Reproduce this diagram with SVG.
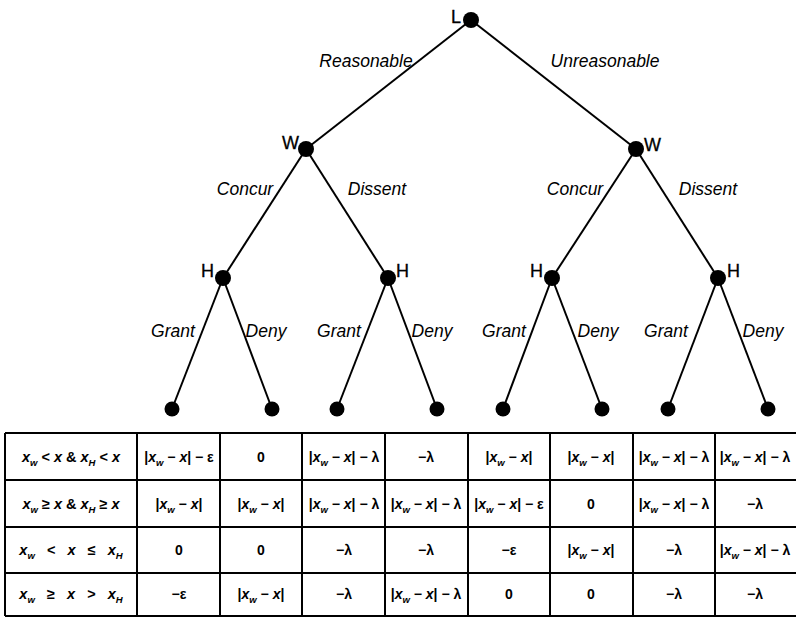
<svg xmlns="http://www.w3.org/2000/svg" width="796" height="618" viewBox="0 0 796 618">
<style>
.edge{stroke:#000;stroke-width:2;fill:none}
.node{fill:#000}
.lbl{font-family:"Liberation Sans",Arial,sans-serif;font-size:17.5px;font-style:italic;fill:#000}
.nl{font-family:"Liberation Sans",Arial,sans-serif;font-size:18px;fill:#000;stroke:#000;stroke-width:0.3}
.grid{stroke:#000;stroke-width:2;fill:none}
.t{font-family:"Liberation Sans",Arial,sans-serif;font-size:14px;font-weight:bold;fill:#000;text-anchor:middle}
.r{font-size:14.5px}
.i{font-style:italic}
.s{font-size:9.5px;font-style:italic}
</style>
<rect width="796" height="618" fill="#fff"/>
<g id="connectors">
<line class="edge" x1="471" y1="20" x2="306" y2="149"/>
<line class="edge" x1="471" y1="20" x2="636" y2="149"/>
<line class="edge" x1="306" y1="149" x2="223" y2="278"/>
<line class="edge" x1="306" y1="149" x2="388" y2="278"/>
<line class="edge" x1="636" y1="149" x2="552" y2="278"/>
<line class="edge" x1="636" y1="149" x2="718" y2="278"/>
<line class="edge" x1="223" y1="278" x2="172" y2="409"/>
<line class="edge" x1="223" y1="278" x2="272" y2="409"/>
<line class="edge" x1="388" y1="278" x2="337" y2="409"/>
<line class="edge" x1="388" y1="278" x2="437" y2="409"/>
<line class="edge" x1="552" y1="278" x2="503" y2="409"/>
<line class="edge" x1="552" y1="278" x2="602" y2="409"/>
<line class="edge" x1="718" y1="278" x2="668" y2="409"/>
<line class="edge" x1="718" y1="278" x2="768" y2="409"/>
<text class="lbl" x="366" y="67" text-anchor="middle">Reasonable</text>
<text class="lbl" x="605" y="67" text-anchor="middle">Unreasonable</text>
<text class="lbl" x="245" y="195" text-anchor="middle">Concur</text>
<text class="lbl" x="377" y="195" text-anchor="middle">Dissent</text>
<text class="lbl" x="575" y="195" text-anchor="middle">Concur</text>
<text class="lbl" x="708" y="195" text-anchor="middle">Dissent</text>
<text class="lbl" x="173" y="337" text-anchor="middle">Grant</text>
<text class="lbl" x="266" y="337" text-anchor="middle">Deny</text>
<text class="lbl" x="339" y="337" text-anchor="middle">Grant</text>
<text class="lbl" x="432" y="337" text-anchor="middle">Deny</text>
<text class="lbl" x="504" y="337" text-anchor="middle">Grant</text>
<text class="lbl" x="598" y="337" text-anchor="middle">Deny</text>
<text class="lbl" x="666" y="337" text-anchor="middle">Grant</text>
<text class="lbl" x="763" y="337" text-anchor="middle">Deny</text>
</g>
<g id="L"><circle class="node" cx="471" cy="20" r="8"/><text class="nl" x="451" y="23">L</text></g>
<g id="W1"><circle class="node" cx="306" cy="149" r="8"/><text class="nl" x="282" y="149">W</text></g>
<g id="W2"><circle class="node" cx="636" cy="149" r="8"/><text class="nl" x="644" y="151">W</text></g>
<g id="H1"><circle class="node" cx="223" cy="278" r="8"/><text class="nl" x="201" y="277">H</text></g>
<g id="H2"><circle class="node" cx="388" cy="278" r="8"/><text class="nl" x="396" y="277">H</text></g>
<g id="H3"><circle class="node" cx="552" cy="278" r="8"/><text class="nl" x="530" y="277">H</text></g>
<g id="H4"><circle class="node" cx="718" cy="278" r="8"/><text class="nl" x="727" y="277">H</text></g>
<g id="leaf1"><circle class="node" cx="172" cy="409" r="7.5"/></g>
<g id="leaf2"><circle class="node" cx="272" cy="409" r="7.5"/></g>
<g id="leaf3"><circle class="node" cx="337" cy="409" r="7.5"/></g>
<g id="leaf4"><circle class="node" cx="437" cy="409" r="7.5"/></g>
<g id="leaf5"><circle class="node" cx="503" cy="409" r="7.5"/></g>
<g id="leaf6"><circle class="node" cx="602" cy="409" r="7.5"/></g>
<g id="leaf7"><circle class="node" cx="668" cy="409" r="7.5"/></g>
<g id="leaf8"><circle class="node" cx="768" cy="409" r="7.5"/></g>
<g id="table">
<path class="grid" d="M5,433 H800 M5,480 H800 M5,527 H800 M5,573 H800 M5,616 H800 M5,433 V616 M137,433 V616 M220,433 V616 M302,433 V616 M385,433 V616 M468,433 V616 M550,433 V616 M633,433 V616 M715,433 V616"/>
<text class="t r" x="71" y="462"><tspan class="i">x</tspan><tspan class="s" dy="4">w</tspan><tspan dy="-4"> &lt; </tspan><tspan class="i">x</tspan> &amp; <tspan class="i">x</tspan><tspan class="s" dy="4">H</tspan><tspan dy="-4"> &lt; </tspan><tspan class="i">x</tspan></text>
<text class="t r" x="71" y="509"><tspan class="i">x</tspan><tspan class="s" dy="4">w</tspan><tspan dy="-4"> ≥ </tspan><tspan class="i">x</tspan> &amp; <tspan class="i">x</tspan><tspan class="s" dy="4">H</tspan><tspan dy="-4"> ≥ </tspan><tspan class="i">x</tspan></text>
<text class="t r" x="71" y="555" xml:space="preserve"><tspan class="i">x</tspan><tspan class="s" dy="4">w</tspan><tspan dy="-4">   &lt;   </tspan><tspan class="i">x</tspan>   ≤   <tspan class="i">x</tspan><tspan class="s" dy="4">H</tspan></text>
<text class="t r" x="71" y="599" xml:space="preserve"><tspan class="i">x</tspan><tspan class="s" dy="4">w</tspan><tspan dy="-4">   ≥   </tspan><tspan class="i">x</tspan>   &gt;   <tspan class="i">x</tspan><tspan class="s" dy="4">H</tspan></text>
<!-- row 1 -->
<text class="t" x="179" y="462">|<tspan class="i">x</tspan><tspan class="s" dy="4">w</tspan><tspan dy="-4"> − </tspan><tspan class="i">x</tspan>| − ε</text>
<text class="t" x="261" y="462">0</text>
<text class="t" x="344" y="462">|<tspan class="i">x</tspan><tspan class="s" dy="4">w</tspan><tspan dy="-4"> − </tspan><tspan class="i">x</tspan>| − λ</text>
<text class="t" x="426" y="462">−λ</text>
<text class="t" x="509" y="462">|<tspan class="i">x</tspan><tspan class="s" dy="4">w</tspan><tspan dy="-4"> − </tspan><tspan class="i">x</tspan>|</text>
<text class="t" x="591" y="462">|<tspan class="i">x</tspan><tspan class="s" dy="4">w</tspan><tspan dy="-4"> − </tspan><tspan class="i">x</tspan>|</text>
<text class="t" x="674" y="462">|<tspan class="i">x</tspan><tspan class="s" dy="4">w</tspan><tspan dy="-4"> − </tspan><tspan class="i">x</tspan>| − λ</text>
<text class="t" x="755" y="462">|<tspan class="i">x</tspan><tspan class="s" dy="4">w</tspan><tspan dy="-4"> − </tspan><tspan class="i">x</tspan>| − λ</text>
<!-- row 2 -->
<text class="t" x="179" y="509">|<tspan class="i">x</tspan><tspan class="s" dy="4">w</tspan><tspan dy="-4"> − </tspan><tspan class="i">x</tspan>|</text>
<text class="t" x="261" y="509">|<tspan class="i">x</tspan><tspan class="s" dy="4">w</tspan><tspan dy="-4"> − </tspan><tspan class="i">x</tspan>|</text>
<text class="t" x="344" y="509">|<tspan class="i">x</tspan><tspan class="s" dy="4">w</tspan><tspan dy="-4"> − </tspan><tspan class="i">x</tspan>| − λ</text>
<text class="t" x="426" y="509">|<tspan class="i">x</tspan><tspan class="s" dy="4">w</tspan><tspan dy="-4"> − </tspan><tspan class="i">x</tspan>| − λ</text>
<text class="t" x="509" y="509">|<tspan class="i">x</tspan><tspan class="s" dy="4">w</tspan><tspan dy="-4"> − </tspan><tspan class="i">x</tspan>| − ε</text>
<text class="t" x="591" y="509">0</text>
<text class="t" x="674" y="509">|<tspan class="i">x</tspan><tspan class="s" dy="4">w</tspan><tspan dy="-4"> − </tspan><tspan class="i">x</tspan>| − λ</text>
<text class="t" x="755" y="509">−λ</text>
<!-- row 3 -->
<text class="t" x="179" y="555">0</text>
<text class="t" x="261" y="555">0</text>
<text class="t" x="344" y="555">−λ</text>
<text class="t" x="426" y="555">−λ</text>
<text class="t" x="509" y="555">−ε</text>
<text class="t" x="591" y="555">|<tspan class="i">x</tspan><tspan class="s" dy="4">w</tspan><tspan dy="-4"> − </tspan><tspan class="i">x</tspan>|</text>
<text class="t" x="674" y="555">−λ</text>
<text class="t" x="755" y="555">|<tspan class="i">x</tspan><tspan class="s" dy="4">w</tspan><tspan dy="-4"> − </tspan><tspan class="i">x</tspan>| − λ</text>
<!-- row 4 -->
<text class="t" x="179" y="599">−ε</text>
<text class="t" x="261" y="599">|<tspan class="i">x</tspan><tspan class="s" dy="4">w</tspan><tspan dy="-4"> − </tspan><tspan class="i">x</tspan>|</text>
<text class="t" x="344" y="599">−λ</text>
<text class="t" x="426" y="599">|<tspan class="i">x</tspan><tspan class="s" dy="4">w</tspan><tspan dy="-4"> − </tspan><tspan class="i">x</tspan>| − λ</text>
<text class="t" x="509" y="599">0</text>
<text class="t" x="591" y="599">0</text>
<text class="t" x="674" y="599">−λ</text>
<text class="t" x="755" y="599">−λ</text>
</g>
</svg>
